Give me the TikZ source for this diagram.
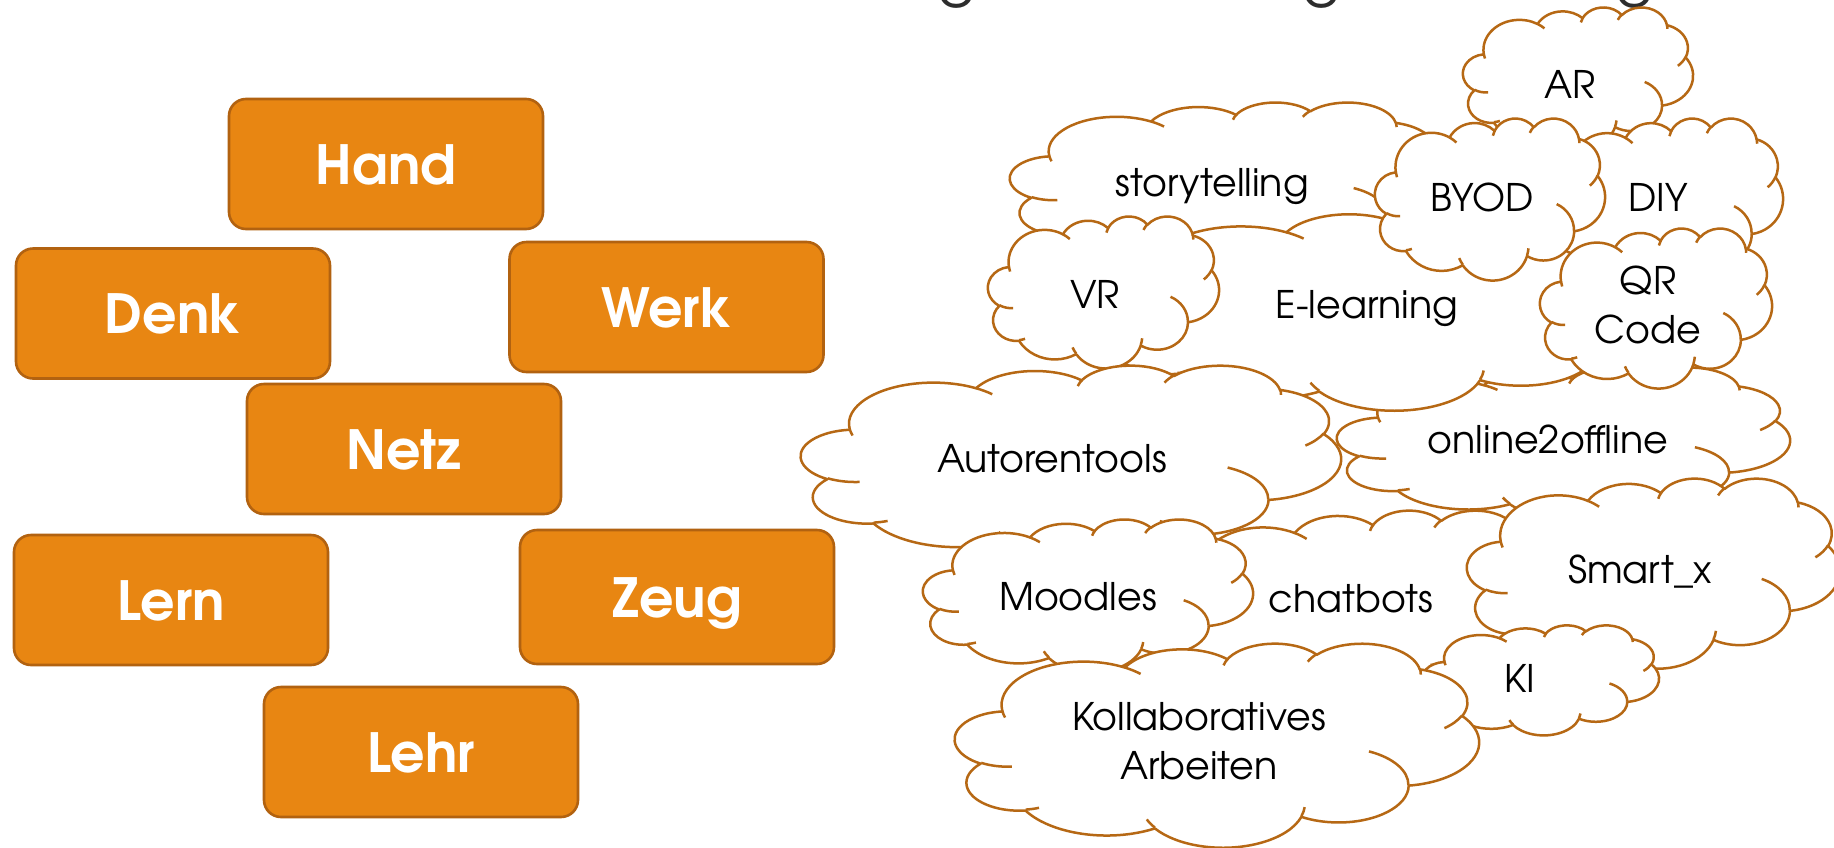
\documentclass[tikz,border=0pt]{standalone}
\usepackage{fontspec}
\setmainfont{texgyreadventor}[Extension=.otf,UprightFont=*-regular,BoldFont=*-bold,ItalicFont=*-italic,BoldItalicFont=*-bolditalic]
\definecolor{boxfill}{RGB}{232,134,18}
\definecolor{boxedge}{RGB}{178,98,16}
\definecolor{cloudedge}{RGB}{182,104,20}
\definecolor{titlegray}{RGB}{45,45,45}
\makeatletter
\newcommand\cldarc[4]{%
  \pgfmathsetmacro\cld@a{atan2((#1)*sin(#3),(#2)*cos(#3))}%
  \pgfmathsetmacro\cld@b{atan2((#1)*sin((#3)+(#4)),(#2)*cos((#3)+(#4)))}%
  \pgfmathsetmacro\cld@e{\cld@a+mod(\cld@b-\cld@a+720,360)}%
  \xdef\cldpath{\cldpath arc[start angle=\cld@a,end angle=\cld@e,x radius=#1,y radius=#2]}%
}
\newcommand\cldmove[1]{\xdef\cldpath{\cldpath (#1)}}
\makeatother
% outer outline of the cloud (43200 grid / 100)
\gdef\cldpath{}
\cldmove{39.00,143.70}
\cldarc{67.53}{91.90}{-190.487483}{123.780533}
\cldarc{53.33}{72.67}{-144.102383}{89.945233}
\cldarc{43.65}{59.45}{-145.807917}{99.723017}
\cldarc{48.57}{65.95}{-130.986067}{117.241733}
\cldarc{53.33}{72.73}{-78.708883}{109.026917}
\cldarc{67.75}{92.20}{-46.26725}{130.269}
\cldarc{57.85}{78.67}{0.625017}{114.033333}
\cldarc{67.52}{92.15}{22.4516}{115.17255}
\cldarc{77.20}{105.43}{66.242633}{75.711017}
\cldarc{43.60}{59.18}{-274.942083}{146.735567}
\cldarc{43.45}{59.45}{-246.8285}{152.51885}
\xdef\cldouter{\cldpath -- cycle}
% inner hooks
\gdef\cldpath{}
\cldmove{46.93,261.77}\cldarc{43.45}{59.45}{86.742}{26.4295}
\cldmove{69.28,348.99}\cldarc{43.60}{59.18}{73.610467}{11.447467}
\cldmove{164.78,390.90}\cldarc{67.52}{92.15}{137.62415}{14.0811}
\cldmove{288.27,347.51}\cldarc{67.52}{92.15}{6.453267}{15.99835}
\cldmove{341.29,229.54}\cldarc{57.85}{78.67}{-70.29235}{70.917367}
\cldmove{417.98,153.54}\cldarc{53.33}{72.73}{30.318033}{27.7515}
\cldmove{383.24,54.26}\cldarc{48.57}{65.95}{-13.744333}{14.8589}
\cldmove{290.78,39.52}\cldarc{48.57}{65.95}{-149.18145}{18.195367}
\cldmove{221.41,47.20}\cldarc{43.65}{59.45}{-163.494267}{17.68635}
\cldmove{140.00,51.92}\cldarc{67.53}{91.90}{-66.70695}{12.31935}
\cldmove{41.27,157.89}\cldarc{67.53}{91.90}{157.65435}{11.858167}
\global\let\cldinner\cldpath
\newcommand\drawcloud[4]{%
  \begin{scope}[shift={(#1,#2)},xscale=#3/432,yscale=#4/432]
    \filldraw[cloudshape] \cldouter;
    \draw[cloudshape] \cldinner;
  \end{scope}}
\tikzset{
  cloudshape/.style={draw=cloudedge,fill=white,line width=2.5pt,line join=round},
  cloudtext/.style={font=\fontsize{38}{49}\selectfont,text=black,inner sep=0pt,anchor=base,align=center},
  wordbox/.style={rectangle,rounded corners=17pt,fill=boxfill,draw=boxedge,line width=2.6pt,
    minimum width=314pt,minimum height=130pt,text=white,inner sep=0pt,
    font=\bfseries\fontsize{54}{54}\selectfont,text height=40pt,text depth=0pt},
  titlepart/.style={font=\fontsize{60}{60}\selectfont,text=titlegray,inner sep=0pt,anchor=south}
}
\begin{document}
\begin{tikzpicture}[x=1pt,y=-1pt]
\useasboundingbox (0,0) rectangle (1834,847);
\fill[white] (0,0) rectangle (1834,847);
% title fragments cut by the top edge
\node[titlepart] (tg1) at (957,9) {g};
\node[titlepart] (tg2) at (1322,9) {g};
\node[titlepart] (tg3) at (1635,9) {g};
% word boxes
\node[wordbox] (hand) at (386,164) {Hand};
\node[wordbox] (denk) at (173,313.5) {Denk};
\node[wordbox] (werk) at (666.5,307) {Werk};
\node[wordbox] (netz) at (404,449) {Netz};
\node[wordbox] (lern) at (171,600) {Lern};
\node[wordbox,minimum height=134pt] (zeug) at (677,597) {Zeug};
\node[wordbox] (lehr) at (421,752) {Lehr};
% clouds (back to front)
\drawcloud{1010}{102}{435}{162}
\node[cloudtext] (story) at (1212,196) {storytelling};
\drawcloud{1337}{367}{453}{151}
\node[cloudtext] (o2o) at (1548,453) {online2offline};
\drawcloud{1100}{208}{575}{202}
\node[cloudtext] (elearn) at (1367,318) {E-learning};
\drawcloud{1463}{7}{230}{141}
\node[cloudtext] (ar) at (1570,98) {AR};
\drawcloud{1550}{118}{233}{166}
\node[cloudtext] (diy) at (1658,211) {DIY};
\drawcloud{1375}{118}{230}{162}
\node[cloudtext] (byod) at (1482,211) {BYOD};
\drawcloud{1540}{228}{232}{160}
\node[cloudtext] (qr) at (1648,343) {QR\\Code};
\drawcloud{988}{216}{231}{152}
\node[cloudtext] (vr) at (1095,308) {VR};
\drawcloud{1165}{510}{400}{191}
\node[cloudtext] (chat) at (1351,612) {chatbots};
\drawcloud{801}{365}{540}{193}
\node[cloudtext] (autor) at (1052,472) {Autorentools};
\drawcloud{1467}{478}{373}{190}
\node[cloudtext] (smart) at (1640,583) {Smart\_x};
\drawcloud{923}{519}{330}{153}
\node[cloudtext] (moodle) at (1078,610) {Moodles};
\drawcloud{1423}{625}{236}{110}
\node[cloudtext] (ki) at (1520,692) {KI};
\drawcloud{955}{643}{524}{204}
\node[cloudtext] (kollab) at (1199,779) {Kollaboratives\\Arbeiten};
\end{tikzpicture}
\end{document}
